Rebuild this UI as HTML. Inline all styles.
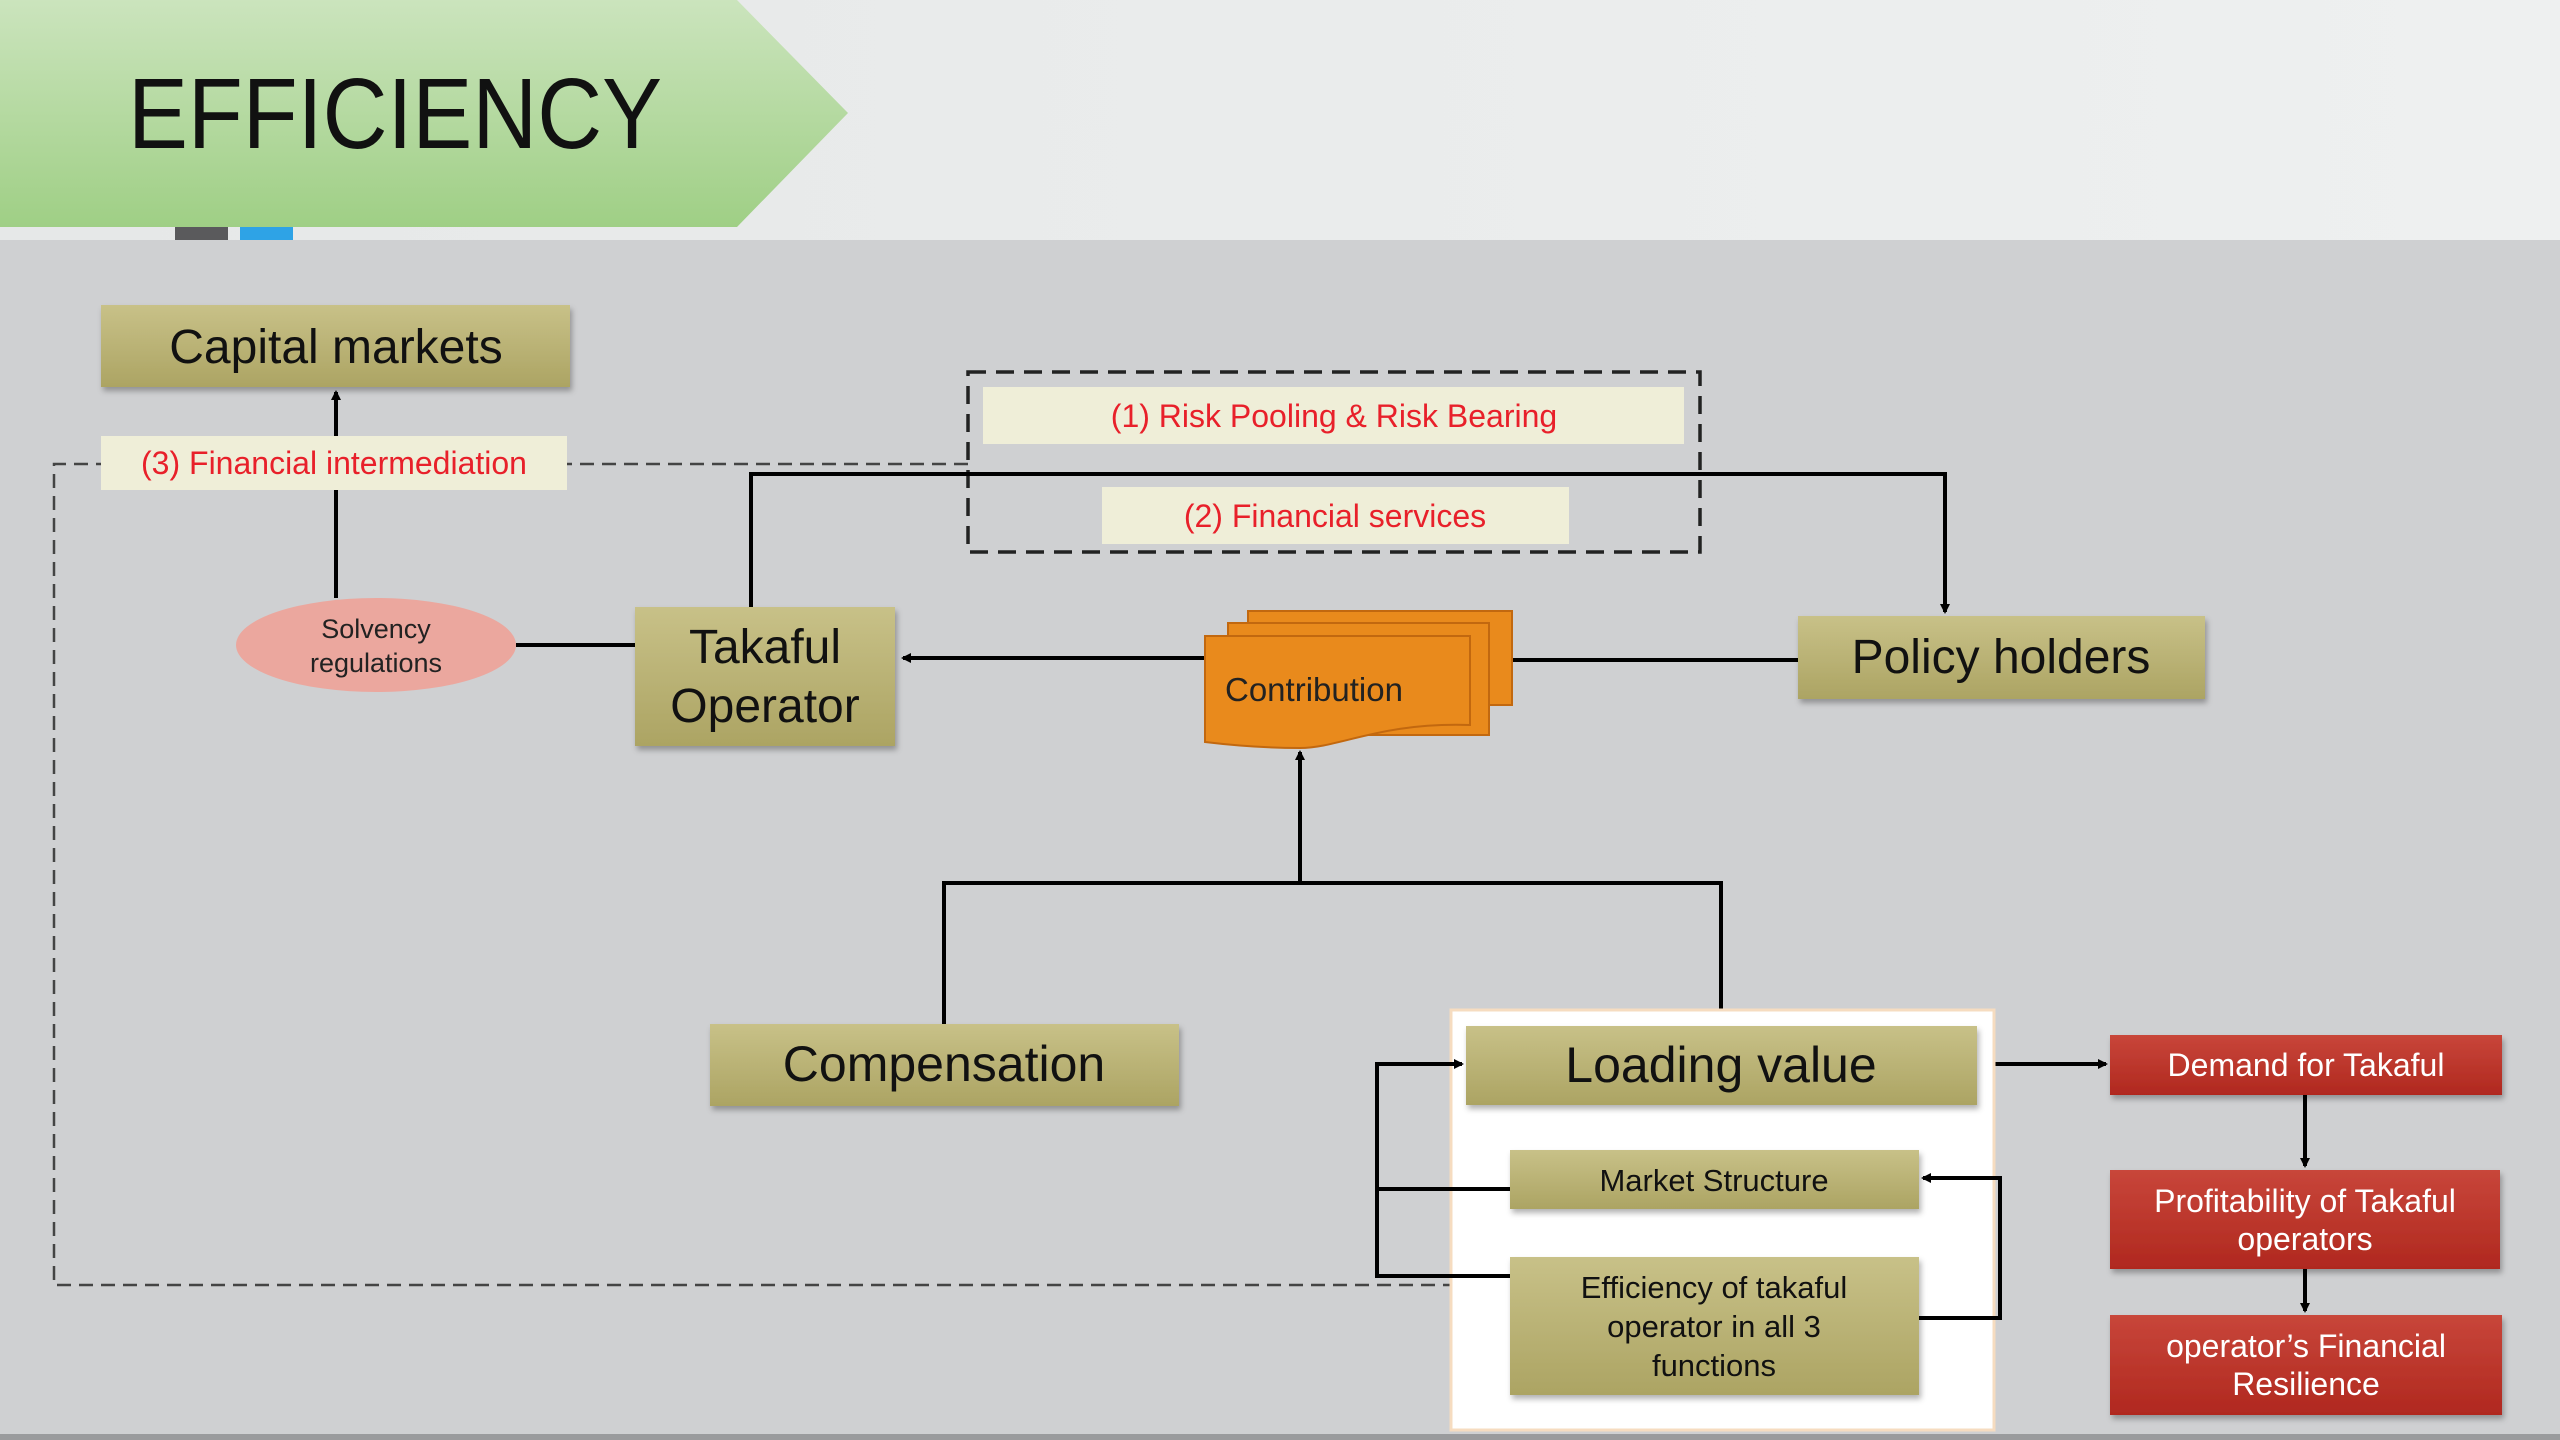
<!DOCTYPE html>
<html><head><meta charset="utf-8"><style>
html,body{margin:0;padding:0;width:2560px;height:1440px;overflow:hidden;background:#cfd0d2}
svg{display:block}
text{font-family:"Liberation Sans",sans-serif}
</style></head><body>
<svg width="2560" height="1440" viewBox="0 0 2560 1440" xmlns="http://www.w3.org/2000/svg">
<defs>
<linearGradient id="hdr" x1="0" y1="0" x2="1" y2="0"><stop offset="0" stop-color="#e6e8e8"/><stop offset="1" stop-color="#eef0f0"/></linearGradient>
<linearGradient id="grn" x1="0" y1="0" x2="0" y2="1"><stop offset="0" stop-color="#cbe4bd"/><stop offset="1" stop-color="#9fcf85"/></linearGradient>
<linearGradient id="olv" x1="0" y1="0" x2="0" y2="1"><stop offset="0" stop-color="#c8c188"/><stop offset="1" stop-color="#aca463"/></linearGradient>
<linearGradient id="red" x1="0" y1="0" x2="0" y2="1"><stop offset="0" stop-color="#c8463a"/><stop offset="1" stop-color="#b0281f"/></linearGradient>
<filter id="sh" x="-10%" y="-10%" width="130%" height="140%"><feDropShadow dx="2" dy="4" stdDeviation="3" flood-color="#000" flood-opacity="0.3"/></filter>
<marker id="ar" markerWidth="10" markerHeight="10" refX="8" refY="5" orient="auto" markerUnits="userSpaceOnUse"><path d="M0,0 L10,5 L0,10 z" fill="#000"/></marker>
</defs>
<rect x="0" y="0" width="2560" height="240" fill="url(#hdr)"/>
<rect x="0" y="240" width="2560" height="1200" fill="#cfd0d2"/>
<rect x="0" y="1434" width="2560" height="6" fill="#9a9b9d"/>
<polygon points="0,0 737,0 848,113 737,227 0,227" fill="url(#grn)"/>
<rect x="175" y="227" width="53" height="13" fill="#5a5a5c"/>
<rect x="240" y="227" width="53" height="13" fill="#2ea3e6"/>
<text x="128" y="148" font-size="100" fill="#111" textLength="534" lengthAdjust="spacingAndGlyphs">EFFICIENCY</text>

<!-- dashed lines -->
<g stroke="#444" stroke-width="2.5" stroke-dasharray="14,8" fill="none">
<polyline points="968,464 54,464 54,1285 1453,1285"/>
</g>
<rect x="968" y="372" width="732" height="180" fill="none" stroke="#222" stroke-width="3.5" stroke-dasharray="18,10"/>

<!-- solid connectors -->
<g stroke="#000" stroke-width="4" fill="none">
<line x1="336" y1="598" x2="336" y2="392" marker-end="url(#ar)"/>
<line x1="516" y1="645" x2="635" y2="645"/>
<polyline points="751,607 751,474 1945,474 1945,612" marker-end="url(#ar)"/>
<line x1="1205" y1="658" x2="903" y2="658" marker-end="url(#ar)"/>
<line x1="1512" y1="660" x2="1798" y2="660"/>
<polyline points="944,1024 944,883 1721,883 1721,1024"/>
<line x1="1300" y1="883" x2="1300" y2="752" marker-end="url(#ar)"/>
<line x1="1977" y1="1064" x2="2106" y2="1064" marker-end="url(#ar)"/>
<line x1="2305" y1="1095" x2="2305" y2="1166" marker-end="url(#ar)"/>
<line x1="2305" y1="1269" x2="2305" y2="1311" marker-end="url(#ar)"/>
</g>

<!-- white panel -->
<rect x="1451" y="1010" width="543" height="420" fill="#fff" stroke="#f6dcc0" stroke-width="3"/>
<g stroke="#000" stroke-width="4" fill="none">
<polyline points="1510,1276 1377,1276 1377,1064 1462,1064" marker-end="url(#ar)"/>
<line x1="1377" y1="1189" x2="1510" y2="1189"/>
<polyline points="1919,1318 2000,1318 2000,1178 1923,1178" marker-end="url(#ar)"/>
</g>

<!-- labels -->
<rect x="101" y="436" width="466" height="54" fill="#efeed8"/>
<text x="334" y="474" font-size="32" fill="#e8202a" text-anchor="middle">(3) Financial intermediation</text>
<rect x="983" y="387" width="701" height="57" fill="#efeed8"/>
<text x="1334" y="427" font-size="32" fill="#e8202a" text-anchor="middle">(1) Risk Pooling &amp; Risk Bearing</text>
<rect x="1102" y="487" width="467" height="57" fill="#efeed8"/>
<text x="1335" y="527" font-size="32" fill="#e8202a" text-anchor="middle">(2) Financial services</text>

<!-- olive boxes -->
<g filter="url(#sh)" fill="url(#olv)">
<rect x="101" y="305" width="469" height="82"/>
<rect x="635" y="607" width="260" height="139"/>
<rect x="1798" y="616" width="407" height="83"/>
<rect x="710" y="1024" width="469" height="82"/>
<rect x="1466" y="1026" width="511" height="79"/>
<rect x="1510" y="1150" width="409" height="59"/>
<rect x="1510" y="1257" width="409" height="138"/>
</g>
<g fill="#111" text-anchor="middle">
<text x="336" y="363" font-size="48">Capital markets</text>
<text x="765" y="663" font-size="48">Takaful</text>
<text x="765" y="722" font-size="48">Operator</text>
<text x="2001" y="673" font-size="48">Policy holders</text>
<text x="944" y="1081" font-size="50">Compensation</text>
<text x="1721" y="1082" font-size="50">Loading value</text>
<text x="1714" y="1191" font-size="31">Market Structure</text>
<text x="1714" y="1298" font-size="31">Efficiency of takaful</text>
<text x="1714" y="1337" font-size="31">operator in all 3</text>
<text x="1714" y="1376" font-size="31">functions</text>
</g>

<!-- solvency -->
<ellipse cx="376" cy="645" rx="140" ry="47" fill="#eba79e"/>
<text x="376" y="638" font-size="27" fill="#222" text-anchor="middle">Solvency</text>
<text x="376" y="672" font-size="27" fill="#222" text-anchor="middle">regulations</text>

<!-- contribution -->
<g fill="#e98a1c" stroke="#c2680f" stroke-width="2">
<rect x="1248" y="611" width="264" height="94"/>
<rect x="1228" y="623" width="261" height="112"/>
<path d="M1205,636 L1470,636 L1470,725 C1380,722 1340,748 1300,748 C1260,748 1230,745 1205,742 Z"/>
</g>
<text x="1225" y="701" font-size="33" fill="#222">Contribution</text>

<!-- red boxes -->
<g filter="url(#sh)" fill="url(#red)">
<rect x="2110" y="1035" width="392" height="60"/>
<rect x="2110" y="1170" width="390" height="99"/>
<rect x="2110" y="1315" width="392" height="100"/>
</g>
<g fill="#fff" text-anchor="middle" font-size="32">
<text x="2306" y="1076">Demand for Takaful</text>
<text x="2305" y="1212">Profitability of Takaful</text>
<text x="2305" y="1250">operators</text>
<text x="2306" y="1357">operator’s Financial</text>
<text x="2306" y="1395">Resilience</text>
</g>
</svg>
</body></html>
